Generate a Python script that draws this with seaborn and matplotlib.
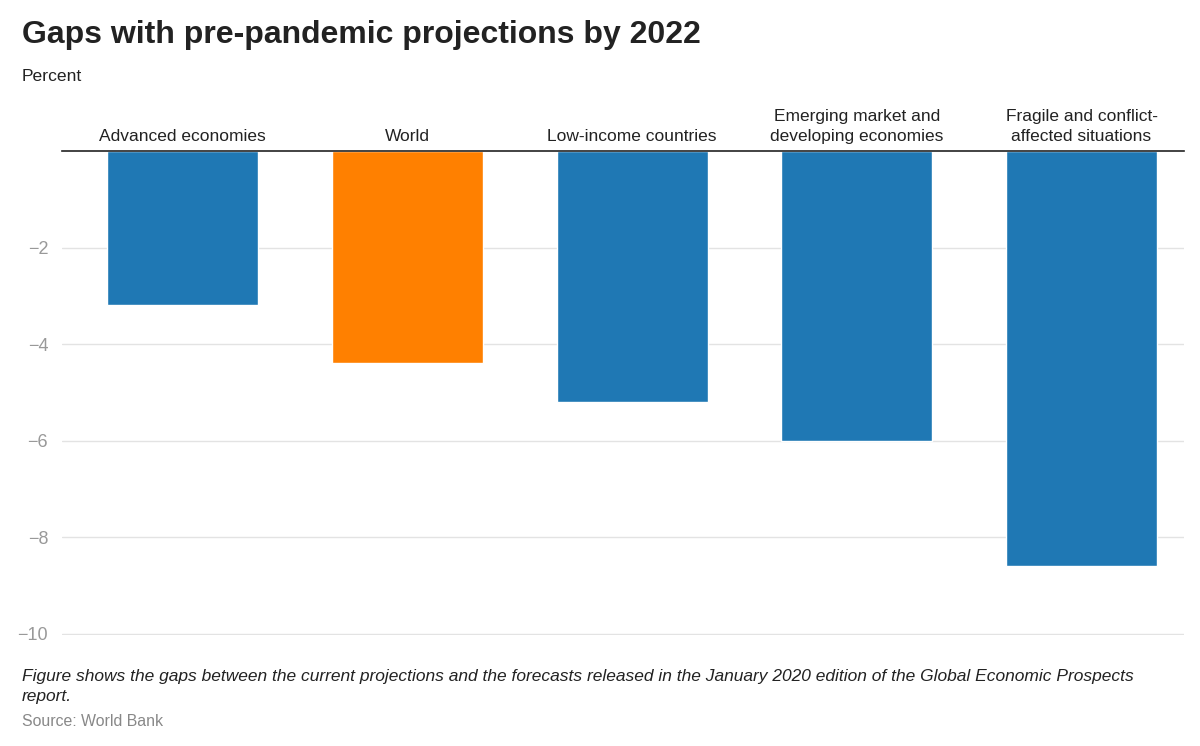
import pandas as pd
import matplotlib.pyplot as plt
import seaborn as sns

# Datos
categories = ['Advanced economies', 'World', 'Low-income countries',
              'Emerging market and\ndeveloping economies',
              'Fragile and conflict-\naffected situations']
gap = [-3.2, -4.4, -5.2, -6.0, -8.6]
bar_colors = ['#1f78b4', '#ff8000', '#1f78b4', '#1f78b4', '#1f78b4']
yticks = [-10, -8, -6, -4, -2]

df = pd.DataFrame({'category': categories, 'gap': gap})

sns.set_style('white')
plt.rcParams['font.family'] = ['Liberation Sans', 'DejaVu Sans']

fig = plt.figure(figsize=(12, 7.46), dpi=100)
ax = fig.add_axes([0.0517, 0.1488, 0.935, 0.6488])

sns.barplot(data=df, x='category', y='gap', hue='category', palette=bar_colors,
            legend=False, width=0.672, saturation=1, ax=ax)

ax.set_ylim(-10.03, 0)
ax.set_yticks(yticks)
ax.set_xlim(-0.536, 4.456)
ax.grid(axis='y', color='#e3e3e3', linewidth=1)
ax.set_axisbelow(True)
for s in ['left', 'right', 'bottom']:
    ax.spines[s].set_visible(False)
ax.spines['top'].set_color('#222222')
ax.spines['top'].set_linewidth(1.2)

ax.xaxis.tick_top()
ax.set_xticks(range(len(categories)), labels=categories,
              linespacing=1.45, multialignment='center')
ax.tick_params(axis='x', length=0, pad=5, labelsize=12.5, labelcolor='#222222')
ax.tick_params(axis='y', length=0, pad=10, labelsize=13, labelcolor='#999999')
ax.set_xlabel('')
ax.set_ylabel('')

# Titulos y notas
fig.text(0.018, 0.953, 'Gaps with pre-pandemic projections by 2022',
         fontsize=23, fontweight='bold', color='#222222', va='center')
fig.text(0.018, 0.897, 'Percent', fontsize=12.6, color='#222222', va='center')
fig.text(0.018, 0.080,
         'Figure shows the gaps between the current projections and the forecasts released in the January 2020 edition of the Global Economic Prospects\nreport.',
         fontsize=12.55, style='italic', color='#222222', va='center', linespacing=1.4)
fig.text(0.018, 0.033, 'Source: World Bank', fontsize=11.4, color='#888888', va='center')

plt.savefig('out.png', dpi=100)
